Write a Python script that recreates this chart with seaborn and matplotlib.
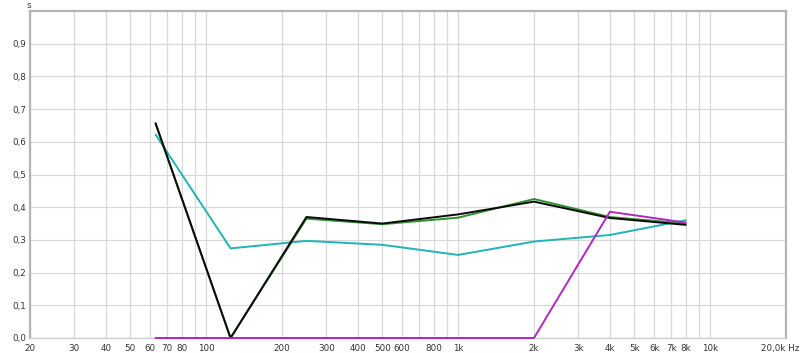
import matplotlib
matplotlib.use("Agg")
import matplotlib.pyplot as plt
import matplotlib.transforms as mtransforms
import seaborn as sns
import pandas as pd
import numpy as np

freqs = [63, 125, 250, 500, 1000, 2000, 4000, 8000]
green = [0.655, 0.0, 0.365, 0.348, 0.368, 0.425, 0.370, 0.350]
black = [0.657, 0.0, 0.370, 0.350, 0.378, 0.417, 0.367, 0.346]
cyan = [0.622, 0.274, 0.297, 0.285, 0.254, 0.295, 0.315, 0.360]
magenta = [0.0, 0.0, 0.0, 0.0, 0.0, 0.0, 0.386, 0.353]

xtick_vals = [20, 30, 40, 50, 60, 70, 80, 100, 200, 300, 400, 500, 600, 800,
              1000, 2000, 3000, 4000, 5000, 6000, 7000, 8000, 10000, 20000]
xtick_labels = ["20", "30", "40", "50", "60", "70", "80", "100", "200", "300", "400",
                "500", "600", "800", "1k", "2k", "3k", "4k", "5k", "6k", "7k", "8k",
                "10k", "20,0k Hz"]
ytick_vals = [0.0, 0.1, 0.2, 0.3, 0.4, 0.5, 0.6, 0.7, 0.8, 0.9]
ytick_labels = ["0,0", "0,1", "0,2", "0,3", "0,4", "0,5", "0,6", "0,7", "0,8", "0,9"]

sns.set_style("white")
plt.rcParams['font.family'] = ['DejaVu Sans']

fig = plt.figure(figsize=(8.0, 3.53), dpi=100)
ax = fig.add_axes([30/800, 15/353, 756/800, 327/353])

df = pd.DataFrame({"freq": freqs * 4,
                   "value": green + black + cyan + magenta,
                   "series": ["green"] * 8 + ["black"] * 8 + ["cyan"] * 8 + ["magenta"] * 8})
palette = {"green": "#2f8f2f", "black": "#0a0a0a", "cyan": "#22b4b4", "magenta": "#b028c0"}
for name in ["cyan", "green", "black", "magenta"]:
    sns.lineplot(data=df[df.series == name], x="freq", y="value", color=palette[name],
                 lw=1.4, ax=ax, legend=False)
for ln, z in zip(ax.lines, [3, 3.1, 3.2, 5]):
    ln.set_zorder(z)
    ln.set_clip_on(False)

ax.set_xscale("log")
ax.set_xlim(20, 20000)
ax.set_ylim(0, 1.0)

grid_x = []
for dec in [10, 100, 1000, 10000]:
    for m in range(1, 10):
        v = m * dec
        if 20 <= v <= 20000:
            grid_x.append(v)
ax.set_xticks(grid_x, minor=True)
ax.grid(True, which="minor", axis="x", color="#d8d8d8", lw=0.9)
ax.set_xticks(xtick_vals)
ax.set_xticklabels(xtick_labels)
ax.set_yticks(ytick_vals)
ax.set_yticklabels(ytick_labels)
ax.grid(True, which="major", color="#d8d8d8", lw=0.9)
ax.set_axisbelow(True)
ax.tick_params(axis="both", which="both", length=0, labelsize=6.3, colors="#333333", pad=3)
ax.tick_params(axis="x", pad=4)
ax.set_xlabel("")
ax.set_ylabel("")

last = ax.get_xticklabels()[-1]
last.set_transform(last.get_transform() + mtransforms.ScaledTranslation(-0.06, 0, fig.dpi_scale_trans))

for s in ["left", "top", "right"]:
    ax.spines[s].set_color("#b4b4b4")
    ax.spines[s].set_linewidth(1.6)
ax.spines["bottom"].set_color("#d0d0d0")
ax.spines["bottom"].set_linewidth(1.0)

fig.text(29/800, 1 - 6/353, "s", fontsize=6.3, color="#333333", ha="center", va="center")

fig.savefig("out.png", dpi=100, facecolor="white")
